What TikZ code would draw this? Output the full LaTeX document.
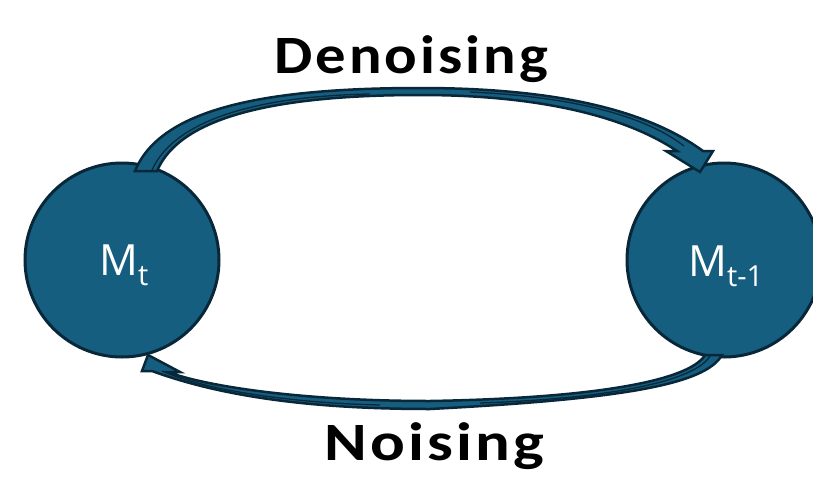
\documentclass[tikz,border=0pt]{standalone}
\usepackage{fontspec}
\setmainfont{Carlito}
\newfontfamily\labelfont{Open Sans}
\newfontfamily\titlefont[LetterSpace=5]{Carlito}
\definecolor{diagfill}{RGB}{22,94,128}
\definecolor{diagline}{RGB}{8,40,58}
\begin{document}
\begin{tikzpicture}[x=1pt,y=-1pt,
  state/.style={circle,draw=diagline,fill=diagfill,line width=3pt,minimum size=194pt,inner sep=0pt},
  blockarrow/.style={fill=diagfill,draw=diagline,line width=2.5pt,line join=miter},
  foldline/.style={draw=diagline,line width=1.3pt},
  statelabel/.style={anchor=base west,inner sep=0pt,text=white,font=\labelfont\fontsize{43}{43}\selectfont},
  title/.style={anchor=base west,inner sep=0pt,text=black,font=\titlefont\bfseries\fontsize{54}{54}\selectfont}]
\useasboundingbox (0,0) rectangle (813,479);
\clip (0,0) rectangle (813,479);
\node[state] (mt) at (122,260) {};
\node[state] (mtm) at (724,260) {};
\node[statelabel] (lmt) at (99,275) {M\raisebox{-10pt}{\fontsize{29}{29}\selectfont t}};
\node[statelabel] (lmtm) at (688,276) {M\raisebox{-10pt}{\fontsize{29}{29}\selectfont t-1}};
% top curved arrow (Denoising)
\draw[blockarrow] (135,171) .. controls (160,110) and (260,88) .. (420,88)
  .. controls (540,88) and (640,105) .. (703,151) -- (713,151) -- (700,172) -- (666,151) -- (677,151)
  .. controls (620,113) and (530,95) .. (420,95)
  .. controls (275,95) and (180,117) .. (157,171) -- cycle;
\draw[foldline] (152,170) .. controls (176,117) and (265,96) .. (370,94);
\draw[foldline] (470,92) .. controls (560,96) and (640,112) .. (684,146);
% bottom curved arrow (Noising)
\draw[blockarrow] (722,355) .. controls (705,385) and (620,399) .. (430,409)
  .. controls (300,409) and (215,394) .. (152,371) -- (142,371) -- (148,355) -- (180,372) -- (168,372)
  .. controls (205,386) and (300,401) .. (430,401)
  .. controls (600,398) and (690,380) .. (705,355) -- cycle;
\draw[foldline] (710,356) .. controls (694,383) and (600,399) .. (480,403);
\draw[foldline] (162,371) .. controls (205,390) and (290,403) .. (380,405);
\node[title,xscale=1.125] (den) at (274,73) {Denoising};
\node[title,xscale=1.2] (noi) at (324,460) {Noising};
\end{tikzpicture}
\end{document}
